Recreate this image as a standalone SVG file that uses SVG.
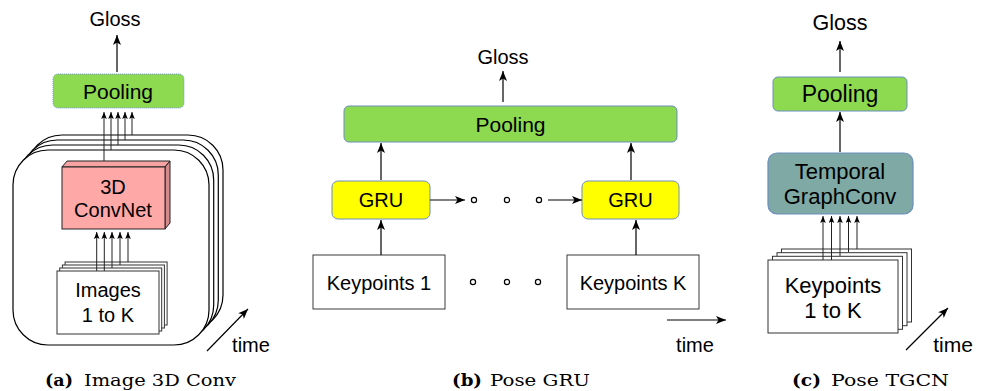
<svg xmlns="http://www.w3.org/2000/svg" width="988" height="391" viewBox="0 0 988 391">
  <defs>
    <style>
      .lbl { font-family: "Liberation Sans", Arial, sans-serif; fill: #000; text-anchor: middle; }
      .cap { font-family: "DejaVu Serif", "Liberation Serif", serif; fill: #000; font-size: 16px; }
      .capb { font-weight: bold; }
      .pool { fill: #8dd94f; stroke: #6c8ebf; stroke-width: 1; }
      .pooldot { fill: #8dd94f; stroke: #7a9cc6; stroke-width: 1; stroke-dasharray: 1 1; }
      .gru { fill: #ffff00; stroke: #6c8ebf; stroke-width: 1; }
      .tg { fill: #7fa9a4; stroke: #6c8ebf; stroke-width: 1.2; }
      .box { fill: #fff; stroke: #3a3a3a; stroke-width: 1; }
      .frame { fill: #fff; stroke: #000; stroke-width: 1.2; }
      .card { fill: #fff; stroke: #333; stroke-width: 1; }
      .edge { fill: none; stroke: #000; stroke-width: 1.2; }
      .big { marker-end: url(#arrow); }
      .thin { fill: none; stroke: #222; stroke-width: 1; marker-end: url(#arrowSmall); }
      .dot { fill: #fff; stroke: #000; stroke-width: 1.2; }
    </style>
    <marker id="arrow" viewBox="0 0 10 8" refX="10" refY="4" markerWidth="11" markerHeight="8" markerUnits="userSpaceOnUse" orient="auto">
      <path d="M0,0 L10,4 L0,8 L2.5,4 z" fill="#000"/>
    </marker>
    <marker id="arrowSmall" viewBox="0 0 10 8" refX="10" refY="4" markerWidth="7" markerHeight="6" markerUnits="userSpaceOnUse" orient="auto">
      <path d="M0,0 L10,4 L0,8 L2,4 z" fill="#000"/>
    </marker>
  </defs>

  <rect width="988" height="391" fill="#fff"/>

  <!-- ===== (a) Image 3D Conv ===== -->
  <g id="a-frames">
    <rect class="frame" x="27" y="135" width="196" height="195" rx="35"/>
    <rect class="frame" x="22.3" y="140" width="196" height="195" rx="35"/>
    <rect class="frame" x="17.7" y="145" width="196" height="195" rx="35"/>
    <rect class="frame" x="13" y="150" width="196" height="195" rx="35"/>
  </g>

  <g id="a-convnet">
    <polygon points="62,167 67,161 170,161 165,167" fill="#f7a3a3" stroke="#222" stroke-width="1"/>
    <polygon points="165,167 170,161 170,223 165,229" fill="#d48a8a" stroke="#222" stroke-width="1"/>
    <rect x="62" y="167" width="103" height="62" fill="#ffa8a8" stroke="#222" stroke-width="1"/>
    <text class="lbl" x="113" y="194" font-size="20">3D</text>
    <text class="lbl" x="113" y="217" font-size="20">ConvNet</text>
  </g>

  <g id="a-images">
    <rect class="card" x="65.1" y="262" width="102" height="63"/>
    <rect class="card" x="62.4" y="265" width="102" height="63"/>
    <rect class="card" x="59.7" y="268" width="102" height="63"/>
    <rect class="card" x="57" y="271" width="102" height="63"/>
    <text class="lbl" x="108" y="297" font-size="20">Images</text>
    <text class="lbl" x="108" y="322" font-size="20">1 to K</text>
  </g>

  <g id="a-pooling">
    <rect class="pooldot" x="53" y="74" width="131" height="34" rx="5"/>
    <text class="lbl" x="118" y="99" font-size="21">Pooling</text>
  </g>

  <g id="a-gloss">
    <text class="lbl" x="115" y="26" font-size="20">Gloss</text>
  </g>

  <g id="a-time">
    <text class="lbl" x="251" y="352" font-size="20">time</text>
  </g>

  <!-- ===== (b) Pose GRU ===== -->
  <g id="b-gloss">
    <text class="lbl" x="503" y="64" font-size="20">Gloss</text>
  </g>
  <g id="b-pooling">
    <rect class="pool" x="344" y="106" width="333" height="36" rx="5"/>
    <text class="lbl" x="510.5" y="132" font-size="21">Pooling</text>
  </g>
  <g id="b-gru1">
    <rect class="gru" x="332" y="181" width="98" height="38" rx="6"/>
    <text class="lbl" x="381" y="207" font-size="20">GRU</text>
  </g>
  <g id="b-gruK">
    <rect class="gru" x="582" y="181" width="97" height="38" rx="6"/>
    <text class="lbl" x="630.5" y="207" font-size="20">GRU</text>
  </g>
  <g id="b-kp1">
    <rect class="box" x="313" y="255" width="132" height="54"/>
    <text class="lbl" x="379" y="290" font-size="20">Keypoints 1</text>
  </g>
  <g id="b-kpK">
    <rect class="box" x="567" y="255" width="132" height="54"/>
    <text class="lbl" x="633" y="290" font-size="20">Keypoints K</text>
  </g>
  <g id="b-ellipsis">
    <circle class="dot" cx="474" cy="200" r="2.6"/>
    <circle class="dot" cx="507" cy="200" r="2.6"/>
    <circle class="dot" cx="539" cy="200" r="2.6"/>
    <circle class="dot" cx="473" cy="282" r="2.6"/>
    <circle class="dot" cx="507" cy="282" r="2.6"/>
    <circle class="dot" cx="538" cy="282" r="2.6"/>
  </g>
  <g id="b-time">
    <text class="lbl" x="695" y="352" font-size="20">time</text>
  </g>

  <!-- ===== (c) Pose TGCN ===== -->
  <g id="c-gloss">
    <text class="lbl" x="840" y="30" font-size="21.5">Gloss</text>
  </g>
  <g id="c-pooling">
    <rect class="pool" x="773" y="77" width="134" height="34" rx="5"/>
    <text class="lbl" x="840" y="102" font-size="23">Pooling</text>
  </g>
  <g id="c-tgconv">
    <rect class="tg" x="768" y="153" width="145" height="61" rx="9"/>
    <text class="lbl" x="840" y="179" font-size="22">Temporal</text>
    <text class="lbl" x="840" y="204" font-size="22">GraphConv</text>
  </g>
  <g id="c-keypoints">
    <rect class="card" x="781.5" y="249" width="130" height="73"/>
    <rect class="card" x="777" y="252.7" width="130" height="73"/>
    <rect class="card" x="772.5" y="256.3" width="130" height="73"/>
    <rect class="card" x="768" y="260" width="130" height="73"/>
    <text class="lbl" x="833" y="293" font-size="22">Keypoints</text>
    <text class="lbl" x="833" y="318" font-size="22">1 to K</text>
  </g>
  <g id="c-time">
    <text class="lbl" x="953" y="352" font-size="21">time</text>
  </g>

  <!-- ===== connectors ===== -->
  <g id="connectors">
    <!-- (a) -->
    <line class="edge big" x1="117" y1="72" x2="117" y2="35"/>
    <line class="thin" x1="104" y1="161" x2="104" y2="112"/>
    <line class="thin" x1="111" y1="150" x2="111" y2="112"/>
    <line class="thin" x1="118" y1="145" x2="118" y2="112"/>
    <line class="thin" x1="125" y1="140" x2="125" y2="112"/>
    <line class="thin" x1="132" y1="135" x2="132" y2="112"/>
    <line class="thin" x1="96.7" y1="271" x2="96.7" y2="232"/>
    <line class="thin" x1="104.3" y1="271" x2="104.3" y2="232"/>
    <line class="thin" x1="112" y1="268" x2="112" y2="232"/>
    <line class="thin" x1="120" y1="265" x2="120" y2="232"/>
    <line class="thin" x1="128" y1="262" x2="128" y2="232"/>
    <line class="edge big" x1="207" y1="351" x2="248" y2="309"/>

    <!-- (b) -->
    <line class="edge big" x1="503" y1="102" x2="503" y2="71"/>
    <line class="edge big" x1="381" y1="180" x2="381" y2="143"/>
    <line class="edge big" x1="631" y1="180" x2="631" y2="143"/>
    <line class="edge big" x1="430" y1="200" x2="465" y2="200"/>
    <line class="edge big" x1="548" y1="200" x2="582" y2="200"/>
    <line class="edge big" x1="381" y1="255" x2="381" y2="220"/>
    <line class="edge big" x1="636" y1="255" x2="636" y2="220"/>
    <line class="edge big" x1="667" y1="320" x2="726" y2="320"/>

    <!-- (c) -->
    <line class="edge big" x1="840" y1="72" x2="840" y2="41"/>
    <line class="edge big" x1="840" y1="152" x2="840" y2="112"/>
    <line class="thin" x1="823" y1="260" x2="823" y2="216"/>
    <line class="thin" x1="831.5" y1="260" x2="831.5" y2="216"/>
    <line class="thin" x1="840" y1="256" x2="840" y2="216"/>
    <line class="thin" x1="848.5" y1="252" x2="848.5" y2="216"/>
    <line class="thin" x1="857" y1="249" x2="857" y2="216"/>
    <line class="edge big" x1="906" y1="350" x2="948" y2="308"/>
  </g>

  <!-- ===== captions ===== -->
  <g id="captions">
    <text class="cap capb" x="45" y="386" textLength="28" lengthAdjust="spacingAndGlyphs">(a)</text>
    <text class="cap" x="84" y="386" textLength="152" lengthAdjust="spacingAndGlyphs">Image 3D Conv</text>
    <text class="cap capb" x="452" y="386" textLength="30" lengthAdjust="spacingAndGlyphs">(b)</text>
    <text class="cap" x="490" y="386" textLength="100" lengthAdjust="spacingAndGlyphs">Pose GRU</text>
    <text class="cap capb" x="792" y="386" textLength="29" lengthAdjust="spacingAndGlyphs">(c)</text>
    <text class="cap" x="831" y="386" textLength="118" lengthAdjust="spacingAndGlyphs">Pose TGCN</text>
  </g>
</svg>
